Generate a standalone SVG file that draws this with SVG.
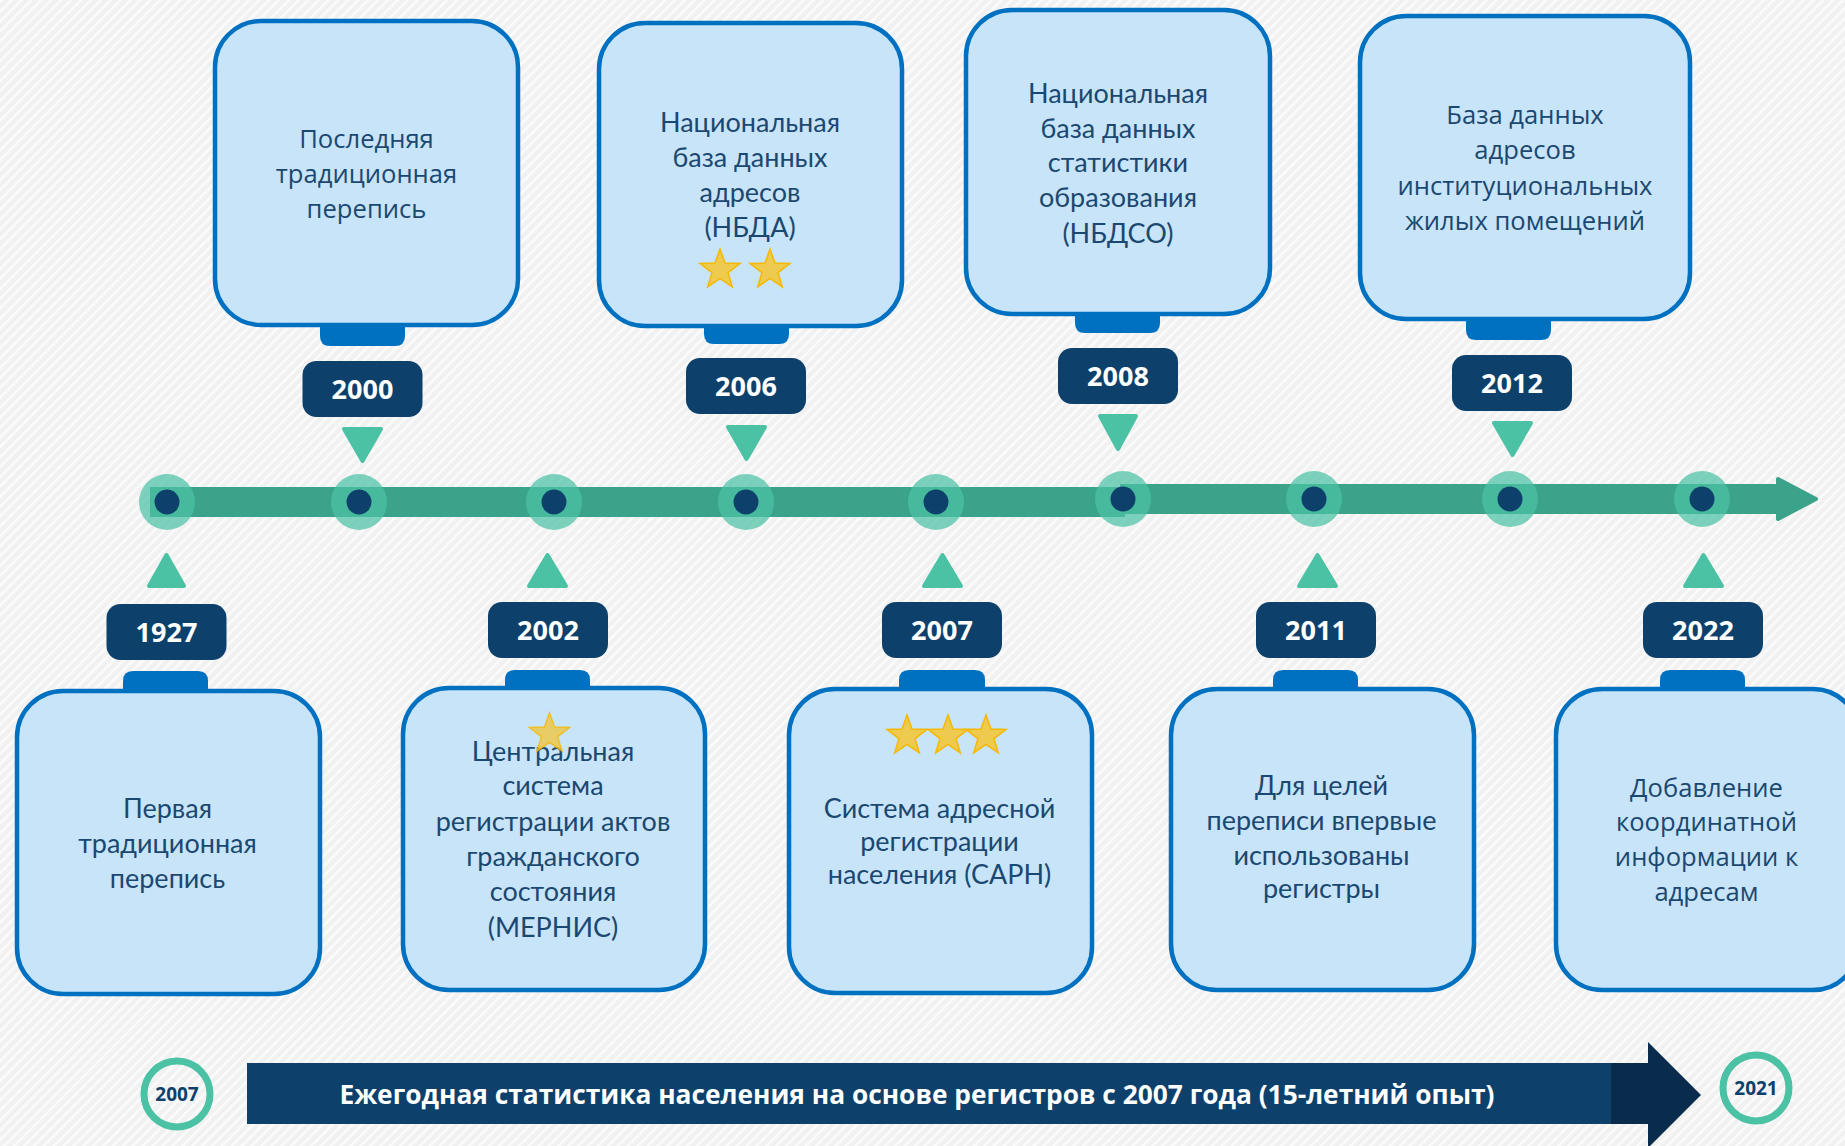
<svg xmlns="http://www.w3.org/2000/svg" width="1845" height="1146" viewBox="0 0 1845 1146">
<style>
.box{fill:#c8e4f8;stroke:#0070c0;stroke-width:4.5}
.tab{fill:#0070c0}
.yr{fill:#0d416b}
.yt{font-family:"Open Sans","Liberation Sans",sans-serif;font-weight:700;font-size:27px;fill:#fff;text-anchor:middle}
.tri{fill:#4cc2a5;stroke:#4cc2a5;stroke-width:4;stroke-linejoin:round}
.t1{font-family:"Open Sans","Liberation Sans",sans-serif;font-size:25.6px;fill:#1b4870;text-anchor:middle}
.t2{font-family:Lato,"Open Sans",sans-serif;font-size:27px;fill:#1b4870;text-anchor:middle}
.halo{fill:#4cc2a5;opacity:0.72}
.dot{fill:#0d416b}
.star{fill:#eeca4e;stroke:#f6b800;stroke-width:1.5;stroke-linejoin:miter}
.ring{fill:none;stroke:#4cc2a5;stroke-width:7}
.rt{font-family:"Open Sans","Liberation Sans",sans-serif;font-weight:700;font-size:19px;fill:#0d416b;text-anchor:middle}
</style>
<defs>
<pattern id="hatch" width="7" height="7" patternUnits="userSpaceOnUse" patternTransform="rotate(45)">
<rect width="7" height="7" fill="#f1f1f1"/>
<rect width="2.5" height="7" fill="#fbfbfb"/>
</pattern>
<path id="star" d="M0,-21 L5,-6.88 L19.97,-6.49 L8.08,2.63 L12.34,16.99 L0,8.5 L-12.34,16.99 L-8.08,2.63 L-19.97,-6.49 L-5,-6.88 Z"/>
</defs>
<rect width="1845" height="1146" fill="url(#hatch)"/>

<g id="connectors">
<rect x="150" y="487" width="975" height="30" fill="#3aa38a"/>
<rect x="1120" y="484" width="662" height="30" fill="#3aa38a"/>
<polygon points="1778,479 1816,499 1778,519" fill="#3aa38a" stroke="#3aa38a" stroke-width="4" stroke-linejoin="round"/>
<polygon class="tri" points="344,429 381,429 362.5,461"/>
<polygon class="tri" points="728,427 765,427 746.5,459"/>
<polygon class="tri" points="1100,416 1136,416 1118,449"/>
<polygon class="tri" points="1494,423 1531,423 1512.5,455"/>
<polygon class="tri" points="149,586 184,586 166.5,555"/>
<polygon class="tri" points="529,586 566,586 547.5,555"/>
<polygon class="tri" points="924,586 961,586 942.5,555"/>
<polygon class="tri" points="1299,586 1336,586 1317.5,555"/>
<polygon class="tri" points="1685,586 1722,586 1703.5,555"/>
</g>

<g id="timeline-points">
<circle class="halo" cx="167" cy="502" r="28"/><circle class="dot" cx="167" cy="502" r="12.5"/>
<circle class="halo" cx="359" cy="502" r="28"/><circle class="dot" cx="359" cy="502" r="12.5"/>
<circle class="halo" cx="554" cy="502" r="28"/><circle class="dot" cx="554" cy="502" r="12.5"/>
<circle class="halo" cx="746" cy="502" r="28"/><circle class="dot" cx="746" cy="502" r="12.5"/>
<circle class="halo" cx="936" cy="502" r="28"/><circle class="dot" cx="936" cy="502" r="12.5"/>
<circle class="halo" cx="1123" cy="499" r="28"/><circle class="dot" cx="1123" cy="499" r="12.5"/>
<circle class="halo" cx="1314" cy="499" r="28"/><circle class="dot" cx="1314" cy="499" r="12.5"/>
<circle class="halo" cx="1510" cy="499" r="28"/><circle class="dot" cx="1510" cy="499" r="12.5"/>
<circle class="halo" cx="1702" cy="499" r="28"/><circle class="dot" cx="1702" cy="499" r="12.5"/>
</g>

<g id="n2000">
<path class="tab" d="M320,322 H405 V336 Q405,346 395,346 H330 Q320,346 320,336 Z"/>
<rect class="box" x="215" y="21" width="303" height="304" rx="46"/>
<rect class="yr" x="302.5" y="361" width="120" height="56" rx="14"/>
<text class="yt" x="362.5" y="398.5">2000</text>
<text class="t1" x="366.5" y="147.5">Последняя</text>
<text class="t1" x="366.5" y="182.5">традиционная</text>
<text class="t1" x="366.5" y="217.5">перепись</text>
</g>

<g id="n2006">
<path class="tab" d="M704,322 H789 V334 Q789,344 779,344 H714 Q704,344 704,334 Z"/>
<rect class="box" x="599" y="23" width="303" height="303" rx="46"/>
<rect class="yr" x="686" y="358" width="120" height="56" rx="14"/>
<text class="yt" x="746" y="395.5">2006</text>
<text class="t2" x="750" y="132">Национальная</text>
<text class="t2" x="750" y="167">база данных</text>
<text class="t2" x="750" y="202">адресов</text>
<text class="t2" x="750" y="236.5">(НБДА)</text>
<use href="#star" class="star" x="720" y="270"/>
<use href="#star" class="star" x="770" y="270"/>
</g>

<g id="n2008">
<path class="tab" d="M1075,310 H1160 V323 Q1160,333 1150,333 H1085 Q1075,333 1075,323 Z"/>
<rect class="box" x="966" y="10" width="304" height="304" rx="46"/>
<rect class="yr" x="1058" y="348" width="120" height="56" rx="14"/>
<text class="yt" x="1118" y="385.5">2008</text>
<text class="t2" x="1118" y="102.5">Национальная</text>
<text class="t2" x="1118" y="137.5">база данных</text>
<text class="t2" x="1118" y="172">статистики</text>
<text class="t2" x="1118" y="207">образования</text>
<text class="t2" x="1118" y="243">(НБДСО)</text>
</g>

<g id="n2012">
<path class="tab" d="M1466,315 H1551 V330 Q1551,340 1541,340 H1476 Q1466,340 1466,330 Z"/>
<rect class="box" x="1360" y="16" width="330" height="303" rx="46"/>
<rect class="yr" x="1452" y="355" width="120" height="56" rx="14"/>
<text class="yt" x="1512" y="392.5">2012</text>
<text class="t1" x="1525" y="124">База данных</text>
<text class="t1" x="1525" y="159">адресов</text>
<text class="t1" x="1525" y="194.6">институциональных</text>
<text class="t1" x="1525" y="229.6">жилых помещений</text>
</g>

<g id="n1927">
<path class="tab" d="M123,694 H208 V681 Q208,671 198,671 H133 Q123,671 123,681 Z"/>
<rect class="box" x="17" y="691" width="303" height="303" rx="46"/>
<rect class="yr" x="106.5" y="604" width="120" height="56" rx="14"/>
<text class="yt" x="166.5" y="641.5">1927</text>
<text class="t2" x="167.5" y="818">Первая</text>
<text class="t2" x="167.5" y="853">традиционная</text>
<text class="t2" x="167.5" y="888">перепись</text>
</g>

<g id="n2002">
<path class="tab" d="M505,691 H590 V680 Q590,670 580,670 H515 Q505,670 505,680 Z"/>
<rect class="box" x="403" y="688" width="302" height="302" rx="46"/>
<rect class="yr" x="488" y="602" width="120" height="56" rx="14"/>
<text class="yt" x="548" y="639.5">2002</text>
<text class="t2" x="553" y="761">Центральная</text>
<text class="t2" x="553" y="795.4">система</text>
<text class="t2" x="553" y="831">регистрации актов</text>
<text class="t2" x="553" y="865.7">гражданского</text>
<text class="t2" x="553" y="900.8">состояния</text>
<text class="t2" x="553" y="936.7">(МЕРНИС)</text>
<use href="#star" class="star" x="549.5" y="734" opacity="0.85"/>
</g>

<g id="n2007">
<path class="tab" d="M899,692 H985 V680 Q985,670 975,670 H909 Q899,670 899,680 Z"/>
<rect class="box" x="789" y="689" width="303" height="304" rx="46"/>
<rect class="yr" x="882" y="602" width="120" height="56" rx="14"/>
<text class="yt" x="942" y="639.5">2007</text>
<use href="#star" class="star" x="907" y="736"/>
<use href="#star" class="star" x="948" y="736"/>
<use href="#star" class="star" x="986" y="736"/>
<text class="t2" x="939.5" y="818">Система адресной</text>
<text class="t2" x="939.5" y="851">регистрации</text>
<text class="t2" x="939.5" y="884">населения (САРН)</text>
</g>

<g id="n2011">
<path class="tab" d="M1273,692 H1358 V680 Q1358,670 1348,670 H1283 Q1273,670 1273,680 Z"/>
<rect class="box" x="1171" y="689" width="303" height="301" rx="46"/>
<rect class="yr" x="1256" y="602" width="120" height="56" rx="14"/>
<text class="yt" x="1316" y="639.5">2011</text>
<text class="t2" x="1321.5" y="795.4">Для целей</text>
<text class="t2" x="1321.5" y="829.8">переписи впервые</text>
<text class="t2" x="1321.5" y="864.6">использованы</text>
<text class="t2" x="1321.5" y="898">регистры</text>
</g>

<g id="n2022">
<path class="tab" d="M1660,692 H1745 V680 Q1745,670 1735,670 H1670 Q1660,670 1660,680 Z"/>
<rect class="box" x="1556" y="689" width="303" height="301" rx="46"/>
<rect class="yr" x="1643" y="602" width="120" height="56" rx="14"/>
<text class="yt" x="1703" y="639.5">2022</text>
<text class="t1" x="1706.5" y="797">Добавление</text>
<text class="t1" x="1706.5" y="831">координатной</text>
<text class="t1" x="1706.5" y="866">информации к</text>
<text class="t1" x="1706.5" y="901">адресам</text>
</g>

<g id="banner">
<rect x="247" y="1063" width="1366" height="61" fill="#0d416b"/>
<rect x="1611" y="1063" width="38" height="61" fill="#0a2c4c"/>
<polygon points="1648,1042 1701,1095 1648,1148" fill="#0a2c4c"/>
<text x="917" y="1104" font-family="'Open Sans','Liberation Sans',sans-serif" font-weight="700" font-size="26.3" fill="#fff" text-anchor="middle">Ежегодная статистика населения на основе регистров с 2007 года (15-летний опыт)</text>
</g>

<g id="c2007">
<circle class="ring" cx="177" cy="1094" r="33"/>
<text class="rt" x="177" y="1101">2007</text>
</g>
<g id="c2021">
<circle class="ring" cx="1756" cy="1088" r="33"/>
<text class="rt" x="1756" y="1095">2021</text>
</g>
</svg>
